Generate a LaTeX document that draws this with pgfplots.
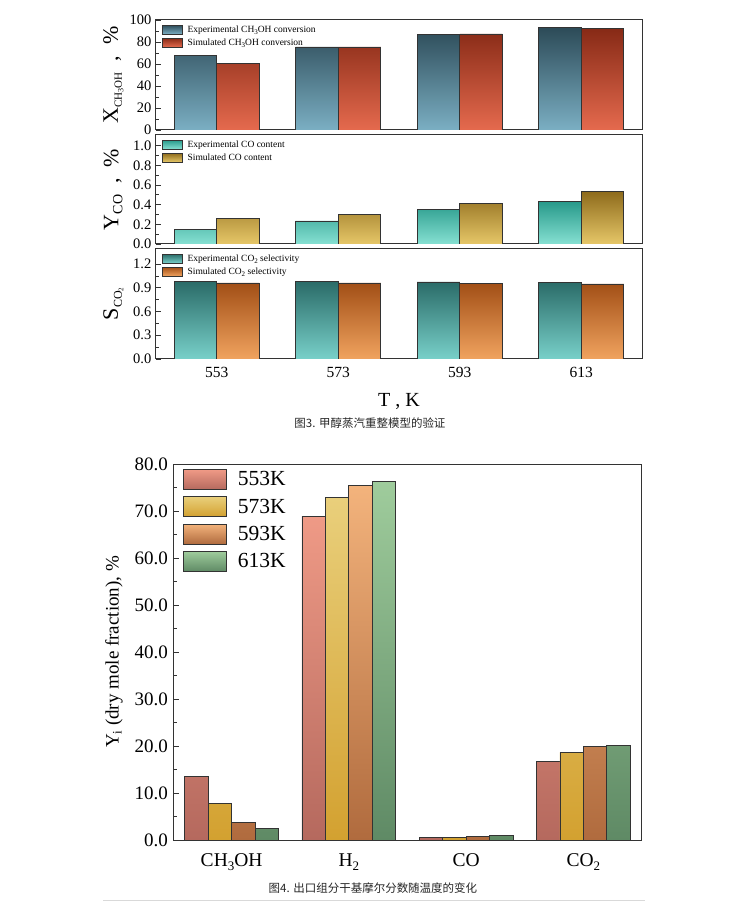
\documentclass[border=0pt]{standalone}
\usepackage{pgfplots}
\pgfplotsset{compat=1.18}
\usepackage{fontspec}
\setmainfont{Liberation Serif}
\newfontfamily\cjk{Noto Sans CJK SC}

\definecolor{eaT}{HTML}{2C4A57}\definecolor{eaB}{HTML}{7BAFC3}
\definecolor{saT}{HTML}{872A16}\definecolor{saB}{HTML}{E56A4E}
\definecolor{ebT}{HTML}{27998A}\definecolor{ebB}{HTML}{86E0D2}
\definecolor{sbT}{HTML}{8E6B1C}\definecolor{sbB}{HTML}{E6C768}
\definecolor{ecT}{HTML}{2A6B68}\definecolor{ecB}{HTML}{78D0C9}
\definecolor{scT}{HTML}{A24F16}\definecolor{scB}{HTML}{F0A35F}
\definecolor{kaT}{HTML}{EF9A86}\definecolor{kaB}{HTML}{B5695E}
\definecolor{kbT}{HTML}{E9CF7B}\definecolor{kbB}{HTML}{D3A130}
\definecolor{kcT}{HTML}{F3B37C}\definecolor{kcB}{HTML}{B06B3E}
\definecolor{kdT}{HTML}{9FCC9C}\definecolor{kdB}{HTML}{5F8A65}
\definecolor{frame}{HTML}{333333}

\newcommand{\sub}[2][-4pt]{\raisebox{#1}{#2}}

\pgfplotsset{
  toppanel/.style={
    scale only axis, width=486pt, height=110pt,
    xmin=-0.5, xmax=3.5, ymin=0,
    ybar=0pt, bar width=0.35,
    xtick={0,1,2,3}, xticklabels={}, xtick style={draw=none},
    ytick pos=left, tick align=inside,
    minor y tick num=1,
    major tick length=5pt, minor tick length=3pt,
    every tick/.style={frame, line width=0.8pt},
    axis line style={frame, line width=1pt},
    yticklabel style={font=\fontsize{14.5}{15}\selectfont, inner sep=4.5pt},
    /pgf/number format/assume math mode=true,
    ylabel style={at={(axis description cs:-0.088,0.5)}, anchor=center, font=\fontsize{22}{22}\selectfont},
    legend style={draw=none, fill=none, at={(axis description cs:0.012,0.97)}, anchor=north west,
      font=\fontsize{9.5}{10}\selectfont, row sep=1pt, inner sep=0pt,
      /tikz/every odd column/.append style={column sep=3pt}},
    legend image code/.code={\draw[##1, draw=frame, line width=0.6pt] (0pt,-4.5pt) rectangle (20pt,4.5pt);},
    legend cell align=left,
  },
}

\begin{document}
\begin{tikzpicture}[x=1pt,y=1pt]
\useasboundingbox (0,0) rectangle (736,906);

% ---------- Panel 1 ----------
\begin{axis}[toppanel, at={(156pt,776pt)}, anchor=south west,
  ymax=100, ytick={0,20,40,60,80,100},
  ylabel={X\sub{\fontsize{11}{11}\selectfont CH\sub[-1.5pt]{\fontsize{8}{8}\selectfont 3}OH}\ \ ,\ \ \%}]
\addplot[draw=frame, line width=0.6pt, top color=eaT, middle color=eaB!55!eaT, bottom color=eaB]
  coordinates {(0,67.8) (1,75.5) (2,87.0) (3,93.5)};
\addplot[draw=frame, line width=0.6pt, top color=saT, middle color=saB!60!saT, bottom color=saB]
  coordinates {(0,60.8) (1,75.5) (2,87.3) (3,92.0)};
\legend{Experimental CH\sub[-2pt]{\fontsize{7}{7}\selectfont 3}OH conversion, Simulated CH\sub[-2pt]{\fontsize{7}{7}\selectfont 3}OH conversion}
\end{axis}

% ---------- Panel 2 ----------
\begin{axis}[toppanel, at={(156pt,662pt)}, anchor=south west, height=109pt,
  ymax=1.11, ytick={0,0.2,0.4,0.6,0.8,1.0},
  yticklabel style={/pgf/number format/.cd, fixed, fixed zerofill, precision=1},
  ylabel={Y\sub{\fontsize{14}{14}\selectfont CO}\ \ ,\ \ \%}]
\addplot[draw=frame, line width=0.6pt, top color=ebT, middle color=ebB!60!ebT, bottom color=ebB]
  coordinates {(0,0.151) (1,0.235) (2,0.350) (3,0.433)};
\addplot[draw=frame, line width=0.6pt, top color=sbT, middle color=sbB!60!sbT, bottom color=sbB]
  coordinates {(0,0.260) (1,0.305) (2,0.416) (3,0.534)};
\legend{Experimental CO content, Simulated CO content}
\end{axis}

% ---------- Panel 3 ----------
\begin{axis}[toppanel, at={(156pt,547pt)}, anchor=south west,
  ymax=1.39, ytick={0,0.3,0.6,0.9,1.2},
  yticklabel style={/pgf/number format/.cd, fixed, fixed zerofill, precision=1},
  xticklabels={553,573,593,613},
  xticklabel style={font=\fontsize{15.5}{16}\selectfont, yshift=-5pt},
  xlabel={T , K},
  xlabel style={at={(axis description cs:0.5,0)}, anchor=center, yshift=-42pt, font=\fontsize{20}{20}\selectfont},
  ylabel={S\sub{\fontsize{12}{12}\selectfont CO\sub[-1.5pt]{\fontsize{7}{7}\selectfont 2}}}]
\addplot[draw=frame, line width=0.6pt, top color=ecT, middle color=ecB!60!ecT, bottom color=ecB]
  coordinates {(0,0.983) (1,0.983) (2,0.974) (3,0.970)};
\addplot[draw=frame, line width=0.6pt, top color=scT, middle color=scB!60!scT, bottom color=scB]
  coordinates {(0,0.962) (1,0.962) (2,0.957) (3,0.949)};
\legend{Experimental CO\sub[-2pt]{\fontsize{7}{7}\selectfont 2} selectivity, Simulated CO\sub[-2pt]{\fontsize{7}{7}\selectfont 2} selectivity}
\end{axis}

\node[font=\cjk\fontsize{11.5}{12}\selectfont, text=black!85] at (370,483) {图3. 甲醇蒸汽重整模型的验证};

% ---------- Bottom chart ----------
\begin{axis}[at={(173pt,66pt)}, anchor=south west,
  scale only axis, width=469pt, height=376pt,
  xmin=-0.5, xmax=3.5, ymin=0, ymax=80,
  ybar=0pt, bar width=0.2,
  xtick={0,1,2,3}, xtick style={draw=none},
  xticklabels={CH\sub[-4.5pt]{\fontsize{13}{13}\selectfont 3}OH, H\sub[-4.5pt]{\fontsize{13}{13}\selectfont 2}, CO, CO\sub[-4.5pt]{\fontsize{13}{13}\selectfont 2}},
  xticklabel style={font=\fontsize{19.5}{20}\selectfont, yshift=-10pt},
  ytick={0,10,...,80}, minor y tick num=1,
  ytick pos=left, tick align=inside,
  major tick length=6pt, minor tick length=4pt,
  every tick/.style={frame, line width=0.8pt},
  axis line style={frame, line width=1pt},
  /pgf/number format/assume math mode=true,
  yticklabel style={font=\fontsize{19}{19}\selectfont, inner sep=5pt, /pgf/number format/.cd, fixed, fixed zerofill, precision=1},
  ylabel={Y\sub[-3pt]{\fontsize{13}{13}\selectfont i} (dry mole fraction), \%},
  ylabel style={at={(axis description cs:-0.126,0.5)}, anchor=center, font=\fontsize{19}{19}\selectfont},
  legend style={draw=none, fill=none, at={(axis description cs:0.021,0.987)}, anchor=north west,
    font=\fontsize{21.5}{22}\selectfont, row sep=6.5pt, inner sep=0pt,
    /tikz/every odd column/.append style={column sep=9pt}},
  legend image code/.code={\draw[#1, draw=frame, line width=0.8pt] (0pt,-10pt) rectangle (43pt,10pt);},
  legend cell align=left,
]
\addplot[draw=frame, line width=0.8pt, top color=kaT, bottom color=kaB]
  coordinates {(0,13.6) (1,68.9) (2,0.57) (3,16.7)};
\addplot[draw=frame, line width=0.8pt, top color=kbT, bottom color=kbB]
  coordinates {(0,7.8) (1,72.8) (2,0.6) (3,18.65)};
\addplot[draw=frame, line width=0.8pt, top color=kcT, bottom color=kcB]
  coordinates {(0,3.8) (1,75.4) (2,0.78) (3,19.85)};
\addplot[draw=frame, line width=0.8pt, top color=kdT, bottom color=kdB]
  coordinates {(0,2.4) (1,76.2) (2,1.0) (3,20.2)};
\legend{553K, 573K, 593K, 613K}
\end{axis}

\node[font=\cjk\fontsize{11.5}{12}\selectfont, text=black!85] at (373,18) {图4. 出口组分干基摩尔分数随温度的变化};
\draw[black!15, line width=0.8pt] (103,6) -- (645,6);
\end{tikzpicture}
\end{document}
